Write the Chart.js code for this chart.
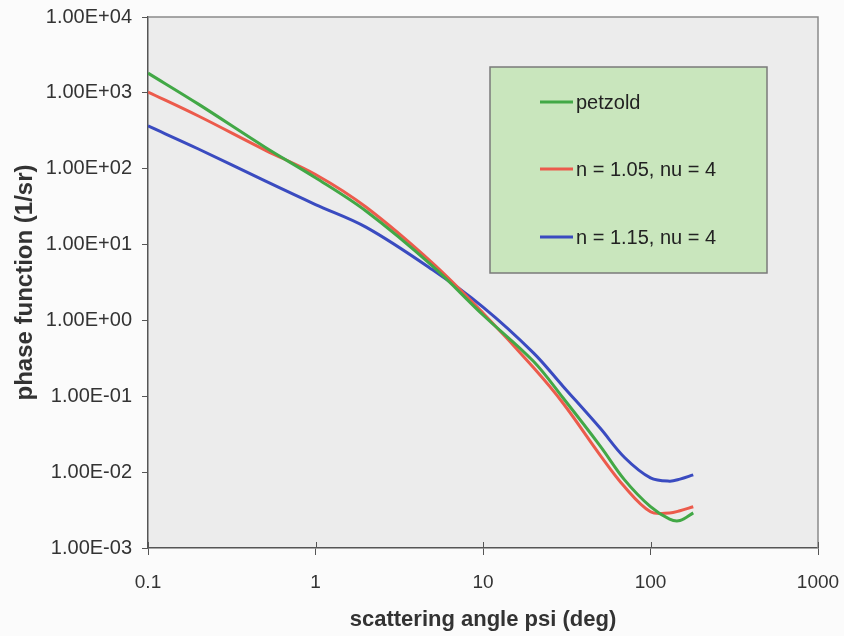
<!DOCTYPE html>
<html>
<head>
<meta charset="utf-8">
<title>Phase function</title>
<script src="https://cdn.jsdelivr.net/npm/chart.js@4.4.1/dist/chart.umd.min.js"></script>
<style>
  body { margin: 0; background: #fbfbfb; }
  #phaseChart { display: block; }
</style>
</head>
<body>
<canvas id="phaseChart" width="844" height="636"></canvas>
<script>
/* Scattering angles (deg) */
const angles = [0.1, 0.2, 0.5, 1, 2, 5, 10, 20, 30, 50, 70, 100, 130, 150, 180];

/* Phase function values (1/sr) for each curve */
const petzold = [1820, 710, 192, 76, 27.7, 5.2, 1.18, 0.289, 0.0955, 0.0222, 0.0079, 0.0035, 0.0024, 0.0023, 0.0029];
const n105 = [1026, 495, 176, 84, 31.3, 5.7, 1.25, 0.239, 0.0815, 0.0168, 0.0064, 0.0030, 0.0029, 0.0031, 0.0035];
const n115 = [366, 182, 69, 33.7, 17.0, 4.65, 1.50, 0.374, 0.136, 0.0381, 0.0156, 0.0084, 0.0076, 0.0081, 0.0092];

const seriesLabels = ['petzold', 'n = 1.05, nu = 4', 'n = 1.15, nu = 4'];
const seriesColors = ['#42a846', '#ec5b4c', '#3a4bc0'];

/* Axis ticks (decades only) */
const xTicks = [0.1, 1, 10, 100, 1000];
const yTicks = [1e-3, 1e-2, 1e-1, 1e0, 1e1, 1e2, 1e3, 1e4];

const textColor = '#333333';
const axisColor = '#555555';
const fontFamily = '"Liberation Sans", Arial, sans-serif';

// 1.00E+03 style labels
const sciLabel = function(v) {
    const exp = Math.round(Math.log10(v));
    const mant = (v / Math.pow(10, exp)).toFixed(2);
    const sign = exp < 0 ? '-' : '+';
    return mant + 'E' + sign + String(Math.abs(exp)).padStart(2, '0');
}

const toPoints = function(values) {
    return angles.map((a, i) => ({x: a, y: values[i]}));
}

const makeDataset = function(values, i) {
    return {
        label: seriesLabels[i],
        data: toPoints(values),
        borderColor: seriesColors[i],
        borderWidth: 3,
        pointRadius: 0,
        tension: 0.35,
        fill: false
    }
}

/* Grey plot background, frame, inner x ticks and the boxed legend */
const plotFrame = {
    id: 'plotFrame',
    beforeDraw(chart) {
        const {ctx, chartArea: a} = chart;
        ctx.save();
        ctx.fillStyle = '#ececec';
        ctx.fillRect(a.left, a.top, a.right - a.left, a.bottom - a.top);
        ctx.restore();
    },
    afterDraw(chart) {
        const {ctx, chartArea: a} = chart;
        ctx.save();
        ctx.strokeStyle = '#8a8a8a';
        ctx.lineWidth = 1.5;
        ctx.beginPath();
        ctx.moveTo(a.left, a.top);
        ctx.lineTo(a.right, a.top);
        ctx.lineTo(a.right, a.bottom);
        ctx.stroke();

        // x ticks cross the axis line
        ctx.strokeStyle = axisColor;
        ctx.lineWidth = 1;
        xTicks.forEach(v => {
            const px = Math.round(chart.scales.x.getPixelForValue(v)) + 0.5;
            ctx.beginPath();
            ctx.moveTo(px, a.bottom);
            ctx.lineTo(px, a.bottom - 6);
            ctx.stroke();
        });

        // legend box
        const lx = a.left + 342, ly = a.top + 50, lw = 277, lh = 206;
        ctx.fillStyle = '#c9e6bd';
        ctx.fillRect(lx, ly, lw, lh);
        ctx.strokeStyle = '#7a7a7a';
        ctx.lineWidth = 1.5;
        ctx.strokeRect(lx, ly, lw, lh);

        ctx.font = '20px ' + fontFamily;
        ctx.textBaseline = 'middle';
        ctx.textAlign = 'left';
        const rowY = [35, 102, 170];
        chart.data.datasets.forEach((ds, i) => {
            const y = ly + rowY[i];
            ctx.strokeStyle = ds.borderColor;
            ctx.lineWidth = 3;
            ctx.beginPath();
            ctx.moveTo(lx + 50, y);
            ctx.lineTo(lx + 83, y);
            ctx.stroke();
            ctx.fillStyle = '#222222';
            ctx.fillText(ds.label, lx + 86, y + 1);
        });
        ctx.restore();
    }
}

const ctx = document.getElementById('phaseChart');
new Chart(ctx, {
    type: 'line',
    data: {
        datasets: [makeDataset(petzold, 0), makeDataset(n105, 1), makeDataset(n115, 2)]
    },
    options: {
        responsive: false,
        maintainAspectRatio: false,
        animation: false,
        layout: {
            padding: {top: 17, right: 26, bottom: 0, left: 0}
        },
        plugins: {
            legend: { display: false },
            tooltip: { enabled: false }
        },
        scales: {
            x: {
                type: 'logarithmic',
                min: 0.1,
                max: 1000,
                afterBuildTicks: (scale) => { scale.ticks = xTicks.map(v => ({value: v})) },
                afterFit: (scale) => {
                    scale.height = 88;
                    scale.paddingLeft = 0;
                    scale.paddingRight = 0;
                },
                ticks: {
                    callback: (v) => String(v),
                    color: textColor,
                    font: { family: fontFamily, size: 19 },
                    padding: 16,
                    maxRotation: 0,
                    autoSkip: false
                },
                grid: { drawOnChartArea: false, tickLength: 7, tickColor: axisColor },
                border: { color: axisColor, width: 1.5 },
                title: {
                    display: true,
                    text: 'scattering angle psi (deg)',
                    color: textColor,
                    font: { family: fontFamily, size: 22, weight: 'bold' },
                    padding: { top: 0, bottom: 3 }
                }
            },
            y: {
                type: 'logarithmic',
                min: 1e-3,
                max: 1e4,
                afterBuildTicks: (scale) => { scale.ticks = yTicks.map(v => ({value: v})) },
                afterFit: (scale) => {
                    scale.width = 148;
                    scale.paddingTop = 0;
                    scale.paddingBottom = 0;
                },
                ticks: {
                    callback: (v) => sciLabel(v),
                    color: textColor,
                    font: { family: fontFamily, size: 20 },
                    padding: 10,
                    autoSkip: false
                },
                grid: { drawOnChartArea: false, tickLength: 6, tickColor: axisColor },
                border: { color: axisColor, width: 1.5 },
                title: {
                    display: true,
                    text: 'phase function (1/sr)',
                    color: textColor,
                    font: { family: fontFamily, size: 24, weight: 'bold' },
                    padding: { top: 11, bottom: 0 }
                }
            }
        }
    },
    plugins: [plotFrame]
});
</script>
</body>
</html>
